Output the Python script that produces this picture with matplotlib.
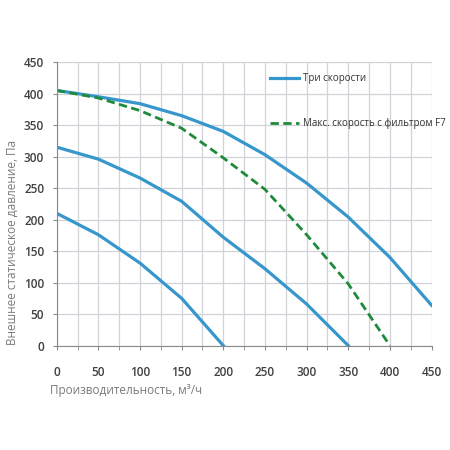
import matplotlib
matplotlib.use("Agg")
import matplotlib.pyplot as plt
from matplotlib.ticker import MultipleLocator

plt.rcParams['font.family'] = ['Open Sans', 'DejaVu Sans']

# airflow, m3/h
x_high = [0, 50, 100, 150, 200, 250, 300, 350, 400, 450]
y_high = [405, 395, 384, 365, 340, 303, 258, 204, 140, 64]
x_mid = [0, 50, 100, 150, 200, 250, 300, 350]
y_mid = [315, 296, 266, 229, 172, 122, 66, 0]
x_low = [0, 50, 100, 150, 200]
y_low = [210, 176, 131, 75, 0]
x_f7 = [0, 50, 100, 150, 200, 250, 300, 350, 400]
y_f7 = [405, 393, 373, 345, 298, 248, 176, 98, 0]

blue = '#3796cc'
green = '#1f8a3a'

fig = plt.figure(figsize=(4.5, 4.5), dpi=100)
ax = fig.add_axes([0.126, 0.232, 0.833, 0.630])

ax.plot(x_high, y_high, color=blue, lw=2.3, label='Три скорости')
ax.plot(x_mid, y_mid, color=blue, lw=2.3)
ax.plot(x_low, y_low, color=blue, lw=2.3)
ax.plot(x_f7, y_f7, color=green, lw=2.0, ls=(0, (3, 1.6)),
        label='Макс. скорость с фильтром F7')

ax.set_xlim(0, 450)
ax.set_ylim(0, 450)
ax.xaxis.set_major_locator(MultipleLocator(50))
ax.xaxis.set_minor_locator(MultipleLocator(25))
ax.yaxis.set_major_locator(MultipleLocator(50))
ax.grid(which='both', axis='x', color='#d0d4d8', lw=0.9)
ax.grid(which='major', axis='y', color='#d0d4d8', lw=0.9)
ax.set_axisbelow(True)

for s in ['top', 'right']:
    ax.spines[s].set_visible(False)
for s in ['left', 'bottom']:
    ax.spines[s].set_color('#8a8a8a')
ax.tick_params(which='both', length=3, color='#8a8a8a', labelcolor='#404040',
               labelsize=8.5)
ax.tick_params(axis='x', pad=12)
ax.tick_params(axis='y', pad=6)
for lab in ax.get_xticklabels() + ax.get_yticklabels():
    lab.set_fontweight('semibold')

fig.text(0.027, 0.462, 'Внешнее статическое давление, Па', color='#7a7a7a',
         fontsize=8.5, rotation=90, ha='center', va='center')
fig.text(0.11, 0.133, 'Производительность, м³/ч', color='#7a7a7a', fontsize=8.5,
         ha='left', va='center')

leg = ax.legend(loc='upper left', bbox_to_anchor=(0.545, 0.992), frameon=False,
                fontsize=7, labelspacing=3.5, handlelength=3.0,
                handletextpad=0.4)
for t in leg.get_texts():
    t.set_color('#333333')

fig.savefig('out.png', dpi=100)
